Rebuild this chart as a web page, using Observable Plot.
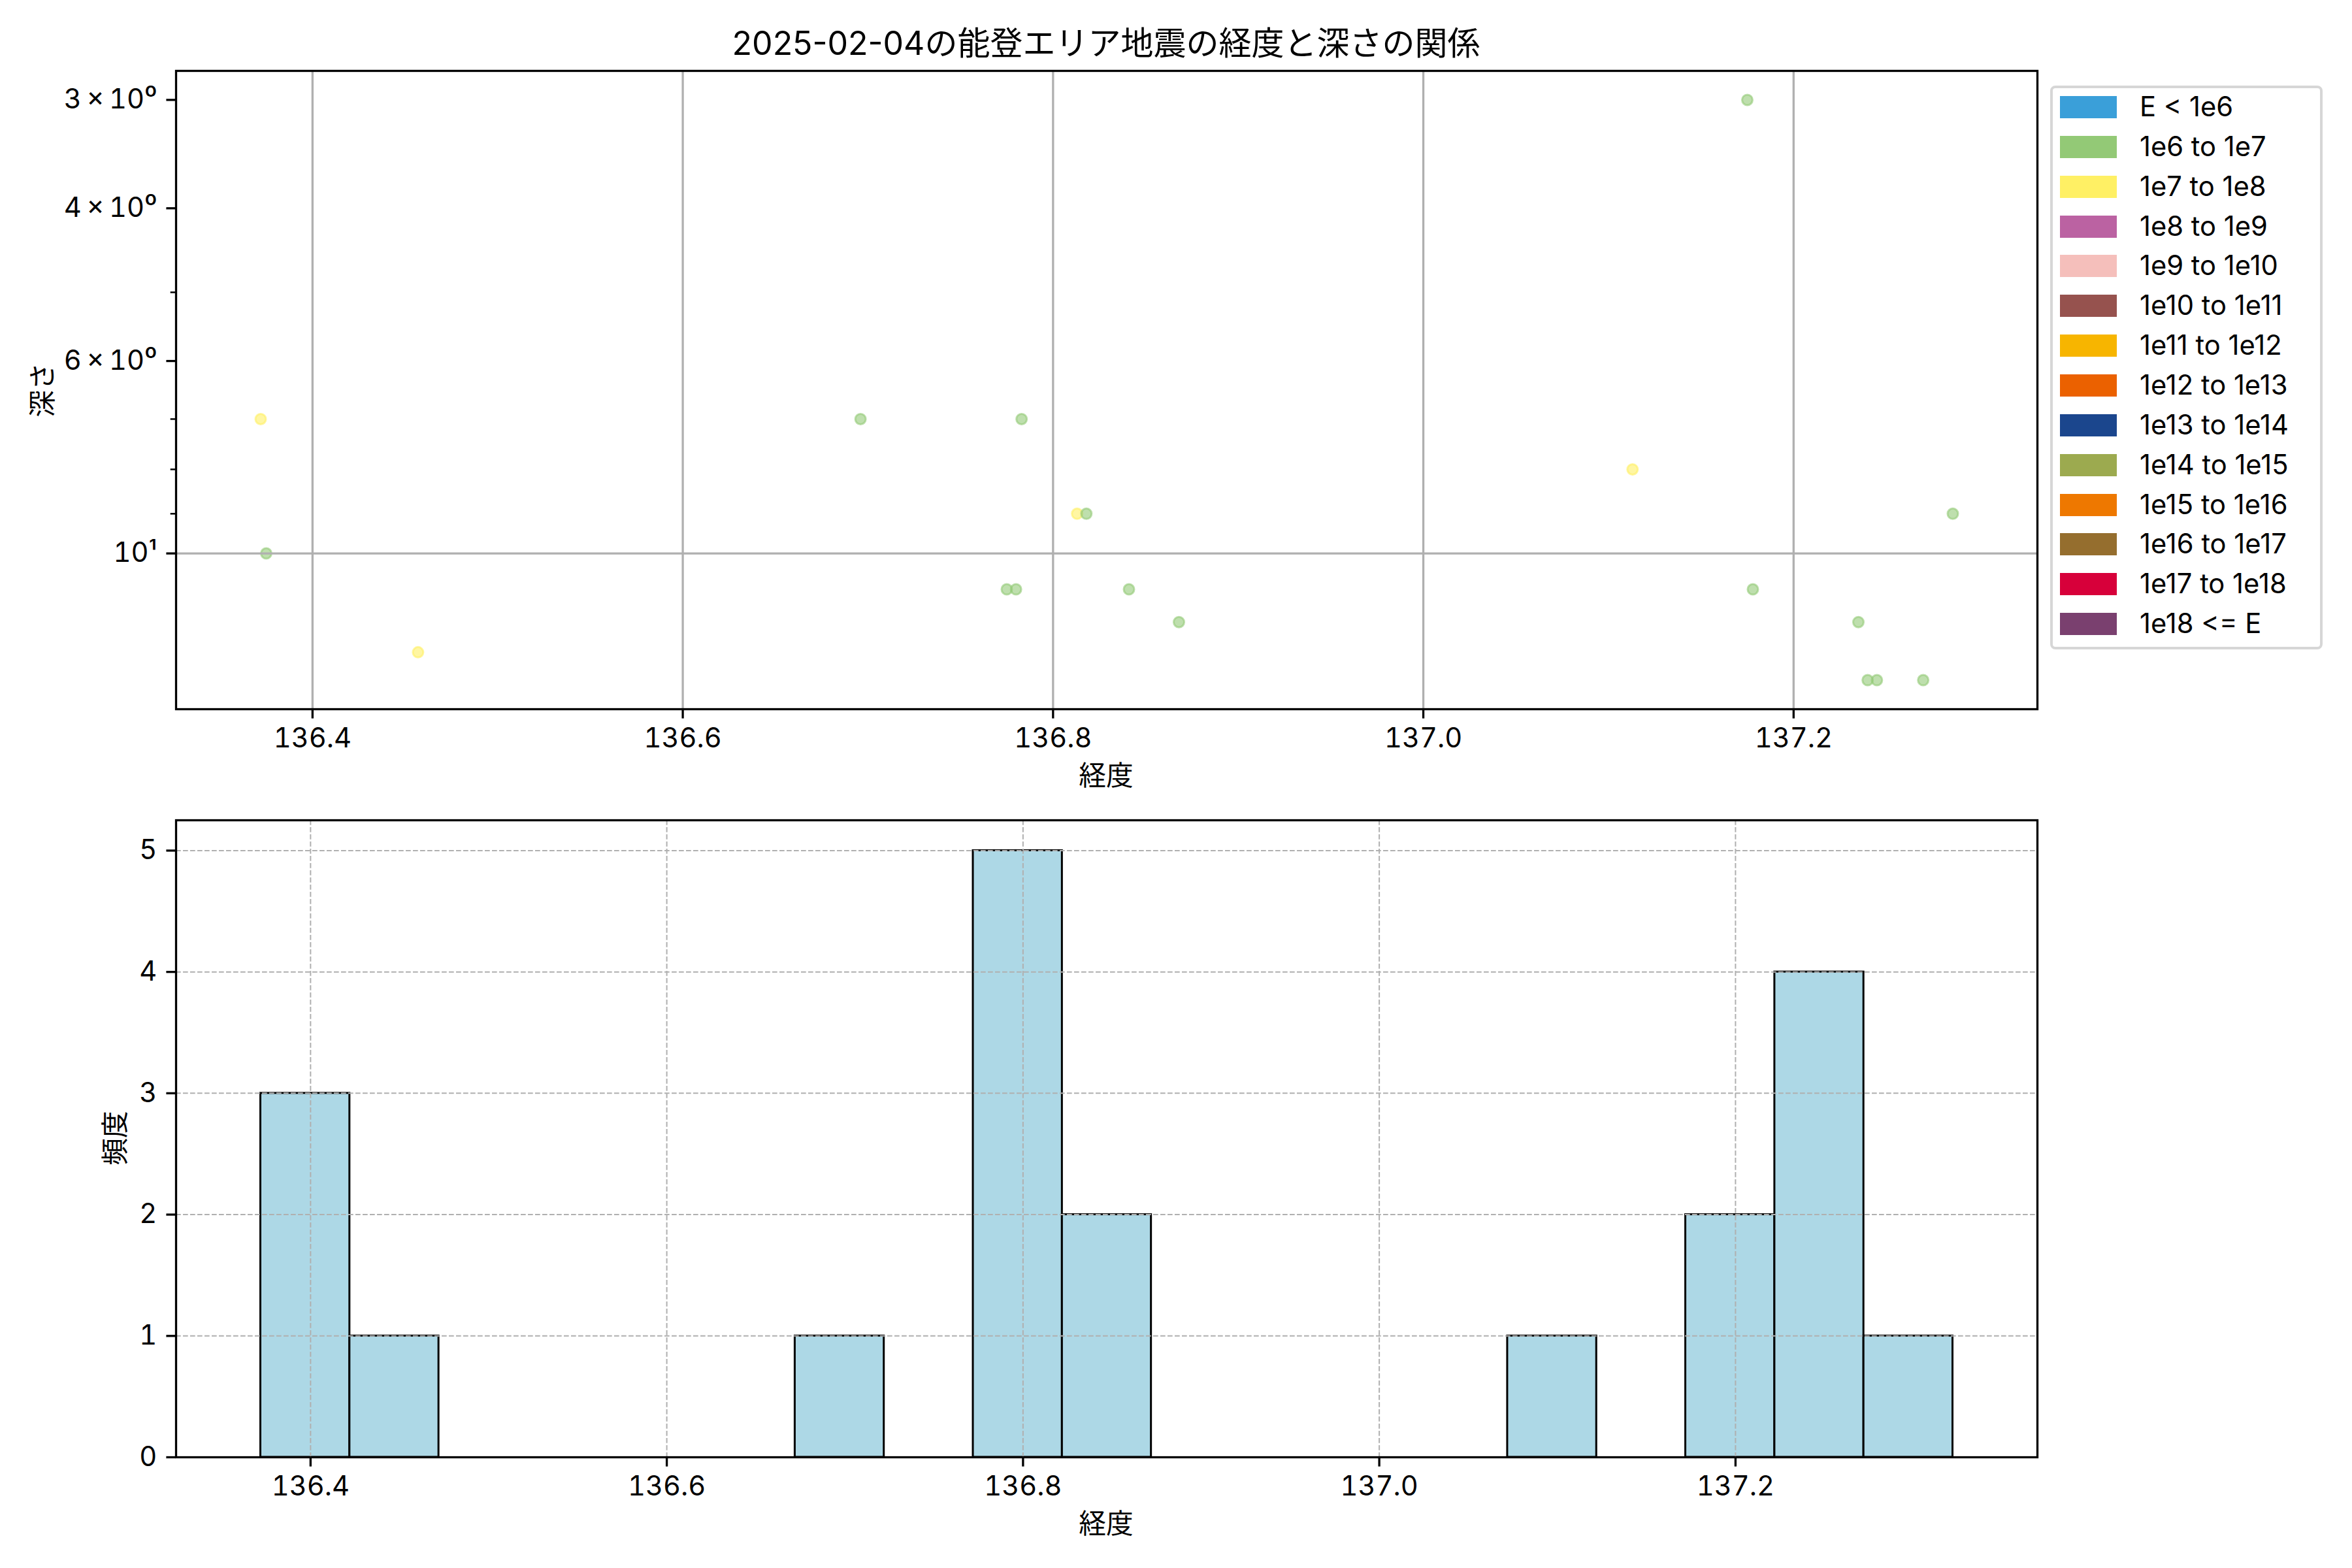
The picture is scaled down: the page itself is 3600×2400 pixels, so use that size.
<!DOCTYPE html>
<html>
<head>
<meta charset="utf-8">
<script src="https://cdn.jsdelivr.net/npm/d3@7"></script>
<script src="https://cdn.jsdelivr.net/npm/@observablehq/plot@0.6"></script>
<style>
  html, body { margin: 0; padding: 0; background: #fff; }
  #fig { position: relative; width: 3600px; height: 2400px; font-family: Inter, "Noto Sans CJK JP", "Noto Sans", sans-serif; color: #000; overflow: hidden; }
  #fig svg { position: absolute; left: 0; overflow: visible; }
  .txt { position: absolute; white-space: nowrap; line-height: 1; }
</style>
</head>
<body>
<div id="fig"></div>
<script>
// ---- data ----
const title = "2025-02-04の能登エリア地震の経度と深さの関係";
const xLabel = "経度";
const depthLabel = "深さ";
const countLabel = "頻度";

// longitude, depth (km), energy class per earthquake
const longitudes = [136.372, 136.375, 136.457, 136.696, 136.775, 136.780, 136.783, 136.813, 136.818, 136.841,
                    136.868, 137.113, 137.175, 137.178, 137.235, 137.240, 137.245, 137.270, 137.286, 136.390];
const depths =     [7, 10, 13, 7, 11, 11, 7, 9, 9, 11,
                    12, 8, 3, 11, 12, 14, 14, 14, 9, 0];
const energyClass = ["1e7 to 1e8", "1e6 to 1e7", "1e7 to 1e8", "1e6 to 1e7", "1e6 to 1e7", "1e6 to 1e7", "1e6 to 1e7", "1e7 to 1e8", "1e6 to 1e7", "1e6 to 1e7",
                     "1e6 to 1e7", "1e7 to 1e8", "1e6 to 1e7", "1e6 to 1e7", "1e6 to 1e7", "1e6 to 1e7", "1e6 to 1e7", "1e6 to 1e7", "1e6 to 1e7", "1e6 to 1e7"];

const classLabels = ["E < 1e6", "1e6 to 1e7", "1e7 to 1e8", "1e8 to 1e9", "1e9 to 1e10", "1e10 to 1e11", "1e11 to 1e12",
                     "1e12 to 1e13", "1e13 to 1e14", "1e14 to 1e15", "1e15 to 1e16", "1e16 to 1e17", "1e17 to 1e18", "1e18 <= E"];
const classColors = ["#3a9fd9", "#93c976", "#fff064", "#bb62a2", "#f5bfbb", "#96524e", "#f7b500",
                     "#eb6100", "#1b468d", "#9caa4f", "#ee7800", "#956e2e", "#d7003a", "#7a406f"];

const lonTicks = [136.4, 136.6, 136.8, 137.0, 137.2];
const depthMajorTicks = [3, 4, 6, 10];
const depthMinorTicks = [5, 7, 8, 9];
const countTicks = [0, 1, 2, 3, 4, 5];
const binWidth = 0.05;

// ---- build ----
const quakes = longitudes.map((lon, i) => ({lon, depth: depths[i], cls: energyClass[i]}));
const shown = quakes.filter(d => d.depth > 0); // non-positive depths vanish on a log axis

const FS = 41.7, TICK = 14.6, MINOR = 8.3, PAD = 14.6, LW = 3.3;
const font = 'Inter, "Noto Sans CJK JP", "Noto Sans", sans-serif';
const fig = document.getElementById("fig");

function padExt(ext, f = 0.05) { const s = (ext[1] - ext[0]) * f; return [ext[0] - s, ext[1] + s]; }
const supMap = {"0":"⁰","1":"¹","2":"²","3":"³","4":"⁴","5":"⁵","6":"⁶","7":"⁷","8":"⁸","9":"⁹","-":"⁻"};
function sup(n) { return String(n).split("").map(c => supMap[c]).join(""); }
function logFmt(d) {
  const e = Math.floor(Math.log10(d) + 1e-9);
  const m = Math.round(d / Math.pow(10, e));
  return m === 1 ? `10${sup(e)}` : `${m}\u2009×\u200910${sup(e)}`;
}

// top: scatter
const lonExt = padExt(d3.extent(shown, d => d.lon));
const logExt = padExt(d3.extent(shown, d => Math.log10(d.depth)));
const scatterChart = Plot.plot({
  width: 3600, height: 1200,
  marginTop: 108, marginBottom: 115, marginLeft: 269, marginRight: 482,
  style: {fontFamily: font, fontSize: FS + "px", background: "transparent", color: "#000"},
  x: {domain: lonExt},
  y: {type: "log", domain: logExt.map(v => Math.pow(10, v)), reverse: true},
  color: {domain: classLabels, range: classColors},
  marks: [
    Plot.dot(shown, {x: "lon", y: "depth", fill: "cls", stroke: "cls", r: 8, strokeWidth: 3, fillOpacity: 0.6, strokeOpacity: 0.6}),
    Plot.gridX(lonTicks, {stroke: "#b0b0b0", strokeOpacity: 1, strokeWidth: LW}),
    Plot.gridY([10], {stroke: "#b0b0b0", strokeOpacity: 1, strokeWidth: LW}),
    Plot.frame({stroke: "#000", strokeWidth: LW}),
    Plot.axisX(lonTicks, {anchor: "bottom", tickSize: TICK, tickPadding: PAD, strokeWidth: LW, tickFormat: d => d.toFixed(1), label: null, fontSize: FS}),
    Plot.axisY(depthMajorTicks, {anchor: "left", tickSize: TICK, tickPadding: PAD, strokeWidth: LW, tickFormat: logFmt, label: null, fontSize: FS}),
    Plot.axisY(depthMinorTicks, {anchor: "left", tickSize: MINOR, strokeWidth: 2.5, tickFormat: () => "", label: null})
  ]
});
scatterChart.style.top = "0px";
fig.appendChild(scatterChart);

// bottom: histogram
const lonAll = quakes.map(d => d.lon);
const lonMin = d3.min(lonAll), lonMax = d3.max(lonAll);
const edges = d3.range(lonMin, lonMax + binWidth, binWidth);
const bins = d3.bin().domain([edges[0], edges[edges.length - 1]]).thresholds(edges.slice(1, -1))(lonAll)
  .filter(b => b.length > 0);
const yMax = d3.max(bins, b => b.length) * 1.05;
const histChart = Plot.plot({
  width: 3600, height: 1200,
  marginTop: 55, marginBottom: 170, marginLeft: 269, marginRight: 482,
  style: {fontFamily: font, fontSize: FS + "px", background: "transparent", color: "#000"},
  x: {domain: padExt([edges[0], edges[edges.length - 1]])},
  y: {domain: [0, yMax]},
  marks: [
    Plot.rectY(bins, {x1: "x0", x2: "x1", y: b => b.length, fill: "#add8e6", stroke: "#000", strokeWidth: 3, inset: 0}),
    Plot.gridX(lonTicks, {stroke: "#b0b0b0", strokeOpacity: 1, strokeWidth: 2, strokeDasharray: "7.7,3.3"}),
    Plot.gridY(countTicks, {stroke: "#b0b0b0", strokeOpacity: 1, strokeWidth: 2, strokeDasharray: "7.7,3.3"}),
    Plot.frame({stroke: "#000", strokeWidth: LW}),
    Plot.axisX(lonTicks, {anchor: "bottom", tickSize: TICK, tickPadding: PAD, strokeWidth: LW, tickFormat: d => d.toFixed(1), label: null, fontSize: FS}),
    Plot.axisY(countTicks, {anchor: "left", tickSize: TICK, tickPadding: PAD, strokeWidth: LW, tickFormat: d => String(d), label: null, fontSize: FS})
  ]
});
histChart.style.top = "1200px";
fig.appendChild(histChart);

// texts
function addText(str, x, y, size, rotate) {
  const el = document.createElement("div");
  el.className = "txt";
  el.textContent = str;
  el.style.fontSize = size + "px";
  el.style.left = x + "px";
  el.style.top = y + "px";
  el.style.transform = `translate(-50%,-50%)` + (rotate ? ` rotate(${rotate}deg)` : "");
  fig.appendChild(el);
}
addText(title, 1693, 66, 50);
addText(xLabel, 1693, 1188, FS);
addText(xLabel, 1693, 2333, FS);
addText(depthLabel, 66, 597, FS, -90);
addText(countLabel, 177, 1742, FS, -90);

// legend
const leg = document.createElement("div");
Object.assign(leg.style, {position: "absolute", left: "3138px", top: "131px", width: "409px", height: "855px",
  border: "4px solid #d6d6d6", borderRadius: "8px", background: "rgba(255,255,255,0.8)"});
fig.appendChild(leg);
classLabels.forEach((lab, i) => {
  const y = 147 + i * 60.85;
  const sw = document.createElement("div");
  Object.assign(sw.style, {position: "absolute", left: "3153px", top: y + "px", width: "87px", height: "34px", background: classColors[i]});
  fig.appendChild(sw);
  const t = document.createElement("div");
  t.className = "txt";
  t.textContent = lab;
  Object.assign(t.style, {left: "3275px", top: (y + 17) + "px", fontSize: FS + "px", transform: "translateY(-50%)"});
  fig.appendChild(t);
});
</script>
</body>
</html>
